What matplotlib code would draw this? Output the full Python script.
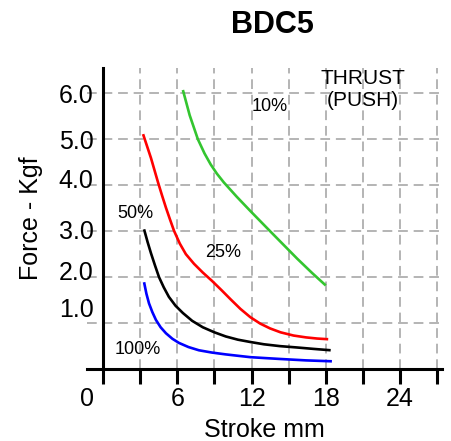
import matplotlib
matplotlib.use("Agg")
import matplotlib.pyplot as plt

plt.rcParams["font.family"] = ["Liberation Sans", "DejaVu Sans"]

# curve data (stroke mm, force kgf)
x_10 = [6.45, 7.0, 7.66, 8.2, 8.7, 9.2, 9.76, 10.8, 11.9, 13.5, 14.6, 15.7, 16.9, 18.0]
y_10 = [6.07, 5.52, 5.00, 4.69, 4.45, 4.25, 4.06, 3.75, 3.44, 3.00, 2.70, 2.40, 2.09, 1.82]

x_25 = [3.23, 3.55, 3.87, 4.15, 4.44, 4.76, 5.08, 5.4, 5.73, 6.2, 6.69, 7.35, 8.06,
        8.8, 9.6, 10.3, 11.1, 11.9, 12.7, 13.5, 14.35, 15.4, 16.4, 17.3, 18.2]
y_25 = [5.11, 4.85, 4.59, 4.33, 4.06, 3.78, 3.51, 3.26, 3.01, 2.73, 2.50, 2.29, 2.10,
        1.92, 1.71, 1.52, 1.31, 1.13, 0.99, 0.885, 0.80, 0.73, 0.69, 0.665, 0.65]

x_50 = [3.31, 3.6, 3.87, 4.2, 4.52, 4.9, 5.32, 5.85, 6.45, 7.2, 8.06, 9.0, 9.92,
        10.9, 11.9, 13.0, 14.3, 15.7, 17.0, 18.4]
y_50 = [3.04, 2.76, 2.52, 2.25, 2.00, 1.78, 1.57, 1.38, 1.22, 1.05, 0.91, 0.80, 0.71,
        0.64, 0.59, 0.54, 0.50, 0.47, 0.44, 0.41]

x_100 = [3.31, 3.5, 3.71, 3.98, 4.27, 4.65, 5.08, 5.6, 6.13, 6.9, 7.74, 8.8, 9.92,
         10.9, 11.9, 13.1, 14.35, 16.4, 18.5]
y_100 = [1.89, 1.64, 1.43, 1.24, 1.07, 0.91, 0.78, 0.66, 0.57, 0.48, 0.41, 0.36, 0.32,
         0.29, 0.26, 0.24, 0.22, 0.19, 0.17]

series = [
    (x_10, y_10, "#33c52f"),
    (x_25, y_25, "#ff0000"),
    (x_50, y_50, "#000000"),
    (x_100, y_100, "#0000ff"),
]

# axis ticks / labels
x_grid = [0, 3, 6, 9, 12, 15, 18, 21, 24, 27]
x_label_pos = [-1.3, 6, 12, 18, 24]
x_labels = ["0", "6", "12", "18", "24"]
y_grid = [1, 2, 3, 4, 5, 6]
y_label_pos = [1.33, 2.14, 3.04, 4.15, 5.0, 6.0]
y_labels = ["1.0", "2.0", "3.0", "4.0", "5.0", "6.0"]

# in-plot annotations: (x, y, text, size)
notes = [
    (13.47, 5.72, "10%", 13),
    (9.68, 2.54, "25%", 13),
    (2.58, 3.39, "50%", 13),
    (2.82, 0.43, "100%", 13),
    (21.0, 6.07, "THRUST\n(PUSH)", 15),
]

fig = plt.figure(figsize=(4.51, 4.41), dpi=100)
ax = fig.add_axes([0.193, 0.163, 0.787, 0.683])

for xs, ys, c in series:
    ax.plot(xs, ys, color=c, lw=1.9, zorder=3, solid_capstyle="butt",
            solid_joinstyle="round")

for x, y, t, s in notes:
    ax.text(x, y, t, fontsize=s, ha="center", va="center", zorder=4)

ax.set_xlim(-1.2, 27.4)
ax.set_ylim(0, 6.55)

ax.spines["left"].set_position(("data", 0))
ax.spines["top"].set_visible(False)
ax.spines["right"].set_visible(False)
for side in ["left", "bottom"]:
    ax.spines[side].set_linewidth(2.2)
    ax.spines[side].set_zorder(5)

# minor ticks carry the labels; keep them even where they sit on major ticks
ax.xaxis.remove_overlapping_locs = False
ax.yaxis.remove_overlapping_locs = False

ax.set_xticks(x_grid)
ax.set_xticklabels([])
ax.set_xticks(x_label_pos, minor=True)
ax.set_xticklabels(x_labels, minor=True, fontsize=18)
ax.tick_params(axis="x", which="major", length=10.8, width=2.2, direction="out")
ax.tick_params(axis="x", which="minor", length=0, pad=13)

ax.set_yticks(y_grid)
ax.set_yticklabels([])
ax.set_yticks(y_label_pos, minor=True)
ax.set_yticklabels(y_labels, minor=True, fontsize=18)
ax.tick_params(axis="y", which="major", length=0)
ax.tick_params(axis="y", which="minor", length=0, pad=7)

ax.grid(True, which="major", color="#b4b4b4", lw=1.4, dashes=(5, 3), zorder=1)
ax.set_axisbelow(True)

ax.set_xlabel("Stroke mm", fontsize=18, labelpad=5)
ax.set_ylabel("Force - Kgf", fontsize=18, labelpad=11)

fig.text(272 / 451, 1 - 33 / 441, "BDC5", fontsize=22, fontweight="bold",
         ha="center", va="baseline")

fig.savefig("out.png", dpi=100)
